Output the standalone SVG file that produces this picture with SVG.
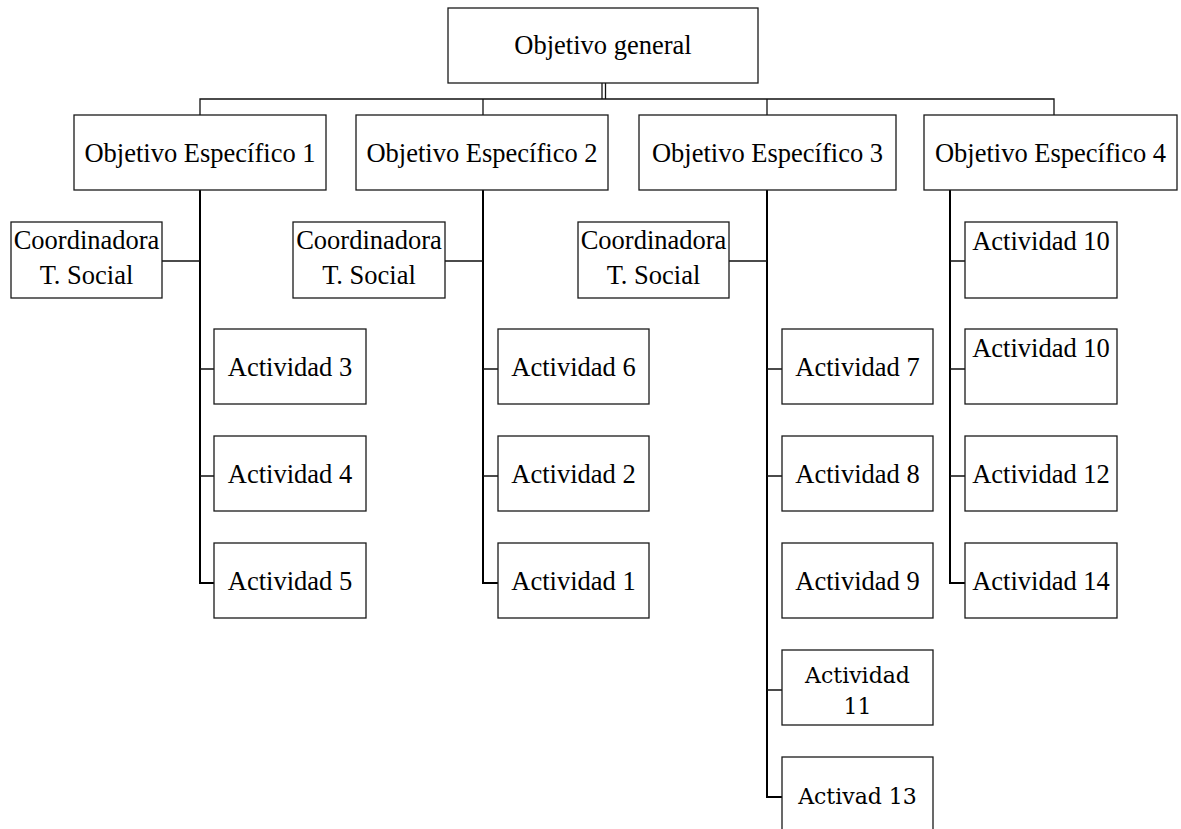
<svg xmlns="http://www.w3.org/2000/svg" width="1181" height="829" viewBox="0 0 1181 829">
<style>
.box{fill:#fff;stroke:#1a1a1a;stroke-width:1.3}
.t{font-family:"Liberation Serif","Times New Roman",serif;font-size:26.5px;fill:#000;text-anchor:middle}
.c{font-family:"DejaVu Serif",Cambria,serif;font-size:22px;fill:#000;text-anchor:middle}
.trunk{fill:none;stroke:#000;stroke-width:2}
.ln{fill:none;stroke:#111;stroke-width:1.3}
</style>
<rect width="1181" height="829" fill="#fff"/>
<g id="connectors">
<line class="ln" x1="602" y1="83" x2="602" y2="99"/>
<line class="ln" x1="605.5" y1="83" x2="605.5" y2="99"/>
<path class="ln" d="M200 115 V99 H1054 V115"/>
<line class="ln" x1="483" y1="99" x2="483" y2="115"/>
<line class="ln" x1="767" y1="99" x2="767" y2="115"/>
<path class="trunk" d="M200 190 V583 H214"/>
<path class="trunk" d="M483 190 V583 H498"/>
<path class="trunk" d="M767 190 V797 H782"/>
<path class="trunk" d="M950 190 V583 H965"/>
<path class="ln" d="M162 261 H200 M200 369 H214 M200 476 H214"/>
<path class="ln" d="M445 261 H483 M483 369 H498 M483 476 H498"/>
<path class="ln" d="M729 261 H767 M767 369 H782 M767 476 H782 M767 690 H782"/>
<path class="ln" d="M950 261 H965 M950 369 H965 M950 476 H965"/>
</g>
<g id="objetivo-general"><rect class="box" x="448" y="8" width="310" height="75"/><text class="t" x="603" y="54">Objetivo general</text></g>
<g id="oe1"><rect class="box" x="74" y="115" width="252" height="75"/><text class="t" x="200" y="162">Objetivo Específico 1</text></g>
<g id="oe2"><rect class="box" x="356" y="115" width="252" height="75"/><text class="t" x="482" y="162">Objetivo Específico 2</text></g>
<g id="oe3"><rect class="box" x="639" y="115" width="257" height="75"/><text class="t" x="767.5" y="162">Objetivo Específico 3</text></g>
<g id="oe4"><rect class="box" x="924" y="115" width="253" height="75"/><text class="t" x="1050.5" y="162">Objetivo Específico 4</text></g>
<g id="coord1"><rect class="box" x="11" y="222" width="151" height="76"/><text class="t" x="86.5" y="249">Coordinadora</text><text class="t" x="86.5" y="284">T. Social</text></g>
<g id="coord2"><rect class="box" x="293" y="222" width="152" height="76"/><text class="t" x="369" y="249">Coordinadora</text><text class="t" x="369" y="284">T. Social</text></g>
<g id="coord3"><rect class="box" x="578" y="222" width="151" height="76"/><text class="t" x="653.5" y="249">Coordinadora</text><text class="t" x="653.5" y="284">T. Social</text></g>
<g id="act3"><rect class="box" x="214" y="329" width="152" height="75"/><text class="t" x="290" y="376">Actividad 3</text></g>
<g id="act4"><rect class="box" x="214" y="436" width="152" height="75"/><text class="t" x="290" y="483">Actividad 4</text></g>
<g id="act5"><rect class="box" x="214" y="543" width="152" height="75"/><text class="t" x="290" y="590">Actividad 5</text></g>
<g id="act6"><rect class="box" x="498" y="329" width="151" height="75"/><text class="t" x="573.5" y="376">Actividad 6</text></g>
<g id="act2"><rect class="box" x="498" y="436" width="151" height="75"/><text class="t" x="573.5" y="483">Actividad 2</text></g>
<g id="act1"><rect class="box" x="498" y="543" width="151" height="75"/><text class="t" x="573.5" y="590">Actividad 1</text></g>
<g id="act7"><rect class="box" x="782" y="329" width="151" height="75"/><text class="t" x="857.5" y="376">Actividad 7</text></g>
<g id="act8"><rect class="box" x="782" y="436" width="151" height="75"/><text class="t" x="857.5" y="483">Actividad 8</text></g>
<g id="act9"><rect class="box" x="782" y="543" width="151" height="75"/><text class="t" x="857.5" y="590">Actividad 9</text></g>
<g id="act11"><rect class="box" x="782" y="650" width="151" height="75"/><text class="c" x="857.5" y="683">Actividad</text><text class="c" x="857.5" y="714">11</text></g>
<g id="act13"><rect class="box" x="782" y="757" width="151" height="90"/><text class="c" x="857.5" y="804">Activad 13</text></g>
<g id="act10a"><rect class="box" x="965" y="222" width="152" height="76"/><text class="t" x="1041" y="250">Actividad 10</text></g>
<g id="act10b"><rect class="box" x="965" y="329" width="152" height="75"/><text class="t" x="1041" y="357">Actividad 10</text></g>
<g id="act12"><rect class="box" x="965" y="436" width="152" height="75"/><text class="t" x="1041" y="483">Actividad 12</text></g>
<g id="act14"><rect class="box" x="965" y="543" width="152" height="75"/><text class="t" x="1041" y="590">Actividad 14</text></g>
</svg>
